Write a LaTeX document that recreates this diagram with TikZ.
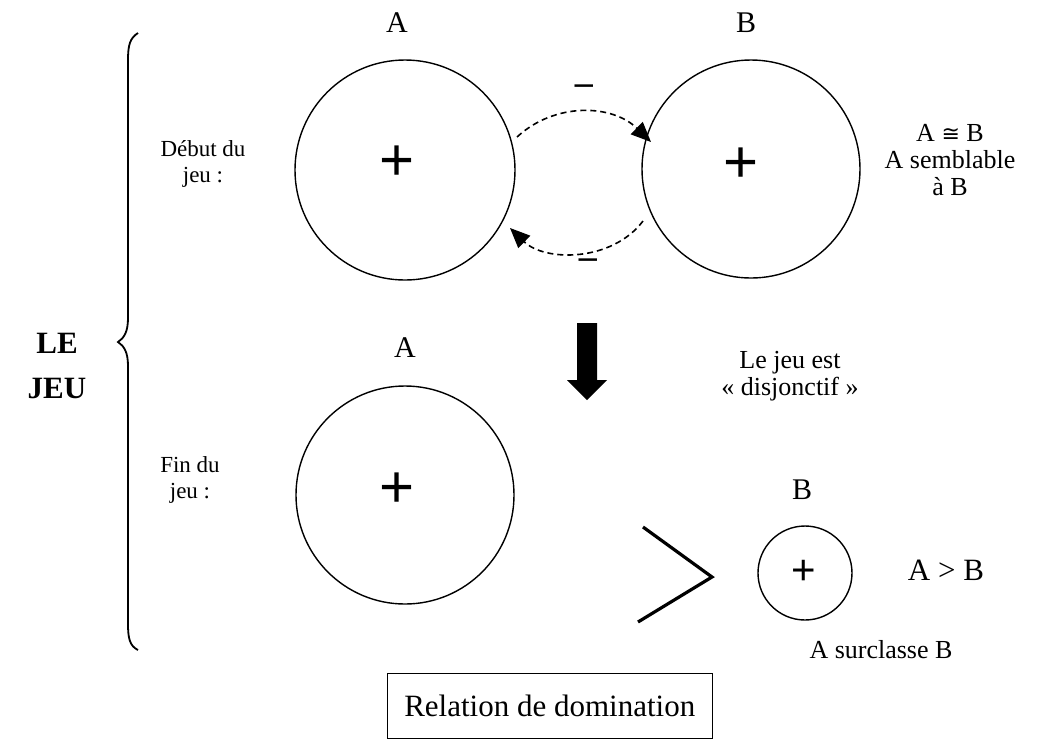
\documentclass[tikz,border=0pt]{standalone}
\usepackage{fontspec}
\setmainfont{Liberation Serif}
\setsansfont{Liberation Sans}
\newfontfamily\symfont{DejaVu Sans}
\usetikzlibrary{arrows.meta}
\begin{document}
\begin{tikzpicture}[x=1pt,y=-1pt,
  txt/.style={inner sep=0pt, align=center, font=\fontsize{#1}{#1}\selectfont},
  txt/.default=30,
  player/.style={circle, draw, line width=1.4pt, inner sep=0pt, minimum size=#1},
  plusmark/.style={inner sep=0pt, font=\fontsize{#1}{#1}\sffamily},
  move/.style={dash pattern=on 6pt off 4pt, line width=1.6pt,
    -{Triangle[length=20pt,width=17pt]}},
  stagetxt/.style={inner sep=0pt, align=center, font=\fontsize{23}{26}\selectfont},
  remark/.style={inner sep=0pt, align=center, font=\fontsize{26}{27}\selectfont}]
\useasboundingbox (0,0) rectangle (1052,740);

% the game, start
\node[txt] (la1) at (397,23) {A};
\node[txt] (lb1) at (746,23) {B};
\node[player=220pt] (A1) at (405,170) {};
\node[player=218pt] (B1) at (751,169) {};
\node[plusmark=60] (pa1) at (397,163) {+};
\node[plusmark=60] (pb1) at (741,165) {+};
\node[stagetxt] (debut) at (203,164) {Début du\\jeu :};

% mutual moves
\coordinate (m1s) at (517,137);
\coordinate (m1e) at (651,142);
\coordinate (m2s) at (643,221);
\coordinate (m2e) at (510,228);
\draw[move] (m1s) .. controls (555,102) and (612,104) .. (m1e);
\draw[move] (m2s) .. controls (612,262) and (545,262) .. (m2e);
\node[txt=36] (minus1) at (584,90) {\textbf{\textendash}};
\node[txt=36] (minus2) at (588,264) {\textbf{\textendash}};

\node[remark] (simil) at (950,160) {A {\symfont\fontsize{22}{22}\selectfont≅} B\\A semblable\\à B};

% transition
\fill (577,323) -- (597,323) -- (597,380) -- (607,380) -- (587,400)
  -- (567,380) -- (577,380) -- cycle;
\node[remark] (disj) at (790,376) {Le jeu est\\« disjonctif »};

% the game, end
\node[txt] (la2) at (405,348) {A};
\node[player=218pt] (A2) at (405,495) {};
\node[plusmark=60] (pa2) at (397,490) {+};
\node[stagetxt] (fin) at (190,480) {Fin du\\jeu :};

\draw[line width=3.2pt] (643,527) -- (712,577) -- (638,622);

\node[txt] (lb2) at (802,490) {B};
\node[player=94pt] (B2) at (805,573) {};
\node[plusmark=42] (pb2) at (804,572) {+};
\node[txt=31] (gt) at (946,570) {A > B};
\node[remark] (surcl) at (881,650) {A surclasse B};

% brace over the whole game
\draw[line width=1.8pt] (138,33) .. controls (130,38) and (128,45) .. (128,60)
  -- (128,318) .. controls (128,332) and (124,338) .. (118,342)
  .. controls (124,346) and (128,352) .. (128,366)
  -- (128,624) .. controls (128,639) and (130,646) .. (138,650);
\node[inner sep=0pt, align=center, font=\fontsize{31}{45}\selectfont\bfseries] (jeu) at (57,366) {LE\\JEU};

% caption
\node[draw, line width=1.4pt, anchor=east, minimum height=65pt, inner xsep=17pt,
  font=\fontsize{31}{31}\selectfont] (cap) at (713,706) {Relation de domination};
\end{tikzpicture}
\end{document}
